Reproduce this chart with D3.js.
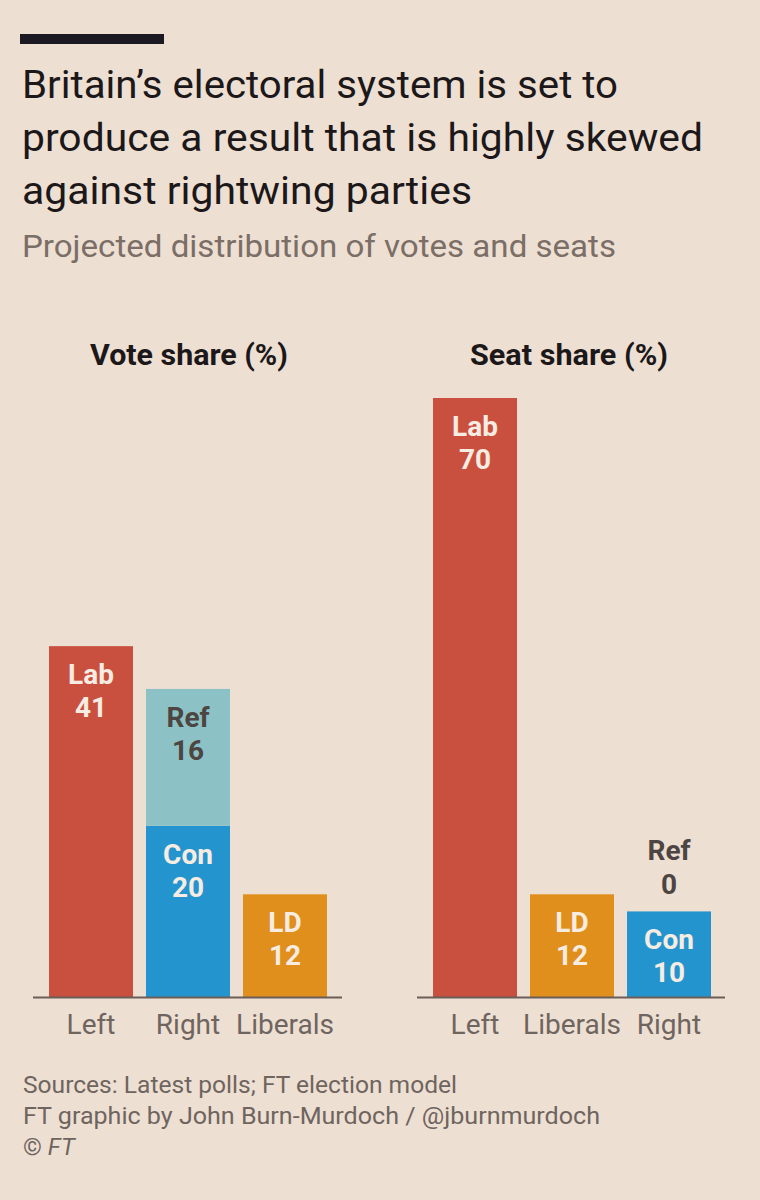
<!DOCTYPE html>
<html>
<head>
<meta charset="utf-8">
<script src="https://cdn.jsdelivr.net/npm/d3@7/dist/d3.min.js"></script>
<style>
  html, body { margin: 0; padding: 0; background: #eedfd3; }
  svg { display: block; }
</style>
</head>
<body>
<svg id="chart" width="760" height="1200"></svg>
<script>
// ---- Data ----
const titleLines = [
  "Britain\u2019s electoral system is set to",
  "produce a result that is highly skewed",
  "against rightwing parties"
];
const subtitle = "Projected distribution of votes and seats";
const voteCategories = ["Left", "Right", "Liberals"];
const seatCategories = ["Left", "Liberals", "Right"];
const parties = ["Lab", "Con", "Ref", "LD"];
const partyCategory = ["Left", "Right", "Right", "Liberals"];
const voteShare = [41, 20, 16, 12];
const seatShare = [70, 10, 0, 12];
const partyColors = ["#c9503f", "#2494cf", "#8cc2c6", "#e08e1c"];
const partyLabelColors = ["#f7ece2", "#f7ece2", "#4d4541", "#f7ece2"];
const panelTitles = ["Vote share (%)", "Seat share (%)"];
const footerLines = [
  "Sources: Latest polls; FT election model",
  "FT graphic by John Burn-Murdoch / @jburnmurdoch"
];

// ---- Layout ----
const svg = d3.select("#chart");
const W = 760, H = 1200;
svg.append("rect").attr("width", W).attr("height", H).attr("fill", "#eedfd3");

const fontMain = "Roboto, 'Noto Sans', sans-serif";

// top rule
svg.append("rect").attr("x", 20).attr("y", 34).attr("width", 144).attr("height", 10).attr("fill", "#1b1a22");

// title
const titleWidths = [596, 681, 450];
const titleBaselines = [98, 151, 204];
titleLines.forEach((t, i) => {
  svg.append("text")
    .attr("x", 22).attr("y", titleBaselines[i])
    .attr("font-family", fontMain).attr("font-size", 38).attr("fill", "#1c1819")
    .attr("textLength", titleWidths[i]).attr("lengthAdjust", "spacingAndGlyphs")
    .text(t);
});
svg.append("text")
  .attr("x", 22).attr("y", 257)
  .attr("font-family", fontMain).attr("font-size", 32).attr("fill", "#7a6e66")
  .attr("textLength", 594).attr("lengthAdjust", "spacingAndGlyphs")
  .text(subtitle);

// shared y scale
const y = d3.scaleLinear().domain([0, 70]).range([997, 398]);

const panels = [
  { cats: voteCategories, values: voteShare, range: [49, 327], axis: [33, 342], titleX: 189, title: panelTitles[0] },
  { cats: seatCategories, values: seatShare, range: [433, 711], axis: [417, 725], titleX: 569, title: panelTitles[1] }
];

panels.forEach(p => {
  const x = d3.scaleBand().domain(p.cats).range(p.range).paddingInner(0.134).paddingOuter(0);
  const g = svg.append("g");

  // panel title
  g.append("text")
    .attr("x", p.titleX).attr("y", 365)
    .attr("text-anchor", "middle")
    .attr("font-family", fontMain).attr("font-weight", 700).attr("font-size", 29)
    .attr("fill", "#1c1819")
    .attr("textLength", 198).attr("lengthAdjust", "spacingAndGlyphs")
    .text(p.title);

  // stacked segments
  const stackTop = {};
  p.cats.forEach(c => stackTop[c] = 0);
  const segs = parties.map((party, i) => {
    const cat = partyCategory[i];
    const y0 = stackTop[cat];
    const y1 = y0 + p.values[i];
    stackTop[cat] = y1;
    return { party, cat, y0, y1, value: p.values[i], color: partyColors[i], labelColor: partyLabelColors[i] };
  });

  g.selectAll("rect.bar").data(segs.filter(d => d.value > 0)).join("rect")
    .attr("class", "bar")
    .attr("x", d => x(d.cat))
    .attr("width", x.bandwidth())
    .attr("y", d => y(d.y1))
    .attr("height", d => y(d.y0) - y(d.y1))
    .attr("fill", d => d.color);

  // labels
  segs.forEach(d => {
    const cx = x(d.cat) + x.bandwidth() / 2;
    const top = y(d.y1);
    let b1, b2, col;
    if (d.value > 0) { b1 = top + 38; b2 = top + 71; col = d.labelColor; }
    else { b1 = top - 51; b2 = top - 17; col = "#4d4541"; }
    [d.party, String(d.value)].forEach((t, k) => {
      g.append("text")
        .attr("x", cx).attr("y", k === 0 ? b1 : b2)
        .attr("text-anchor", "middle")
        .attr("font-family", fontMain).attr("font-weight", 700).attr("font-size", 28)
        .attr("fill", col)
        .text(t);
    });
  });

  // baseline
  g.append("line")
    .attr("x1", p.axis[0]).attr("x2", p.axis[1])
    .attr("y1", y(0) + 0.5).attr("y2", y(0) + 0.5)
    .attr("stroke", "#6a5f58").attr("stroke-width", 2);

  // category labels
  g.selectAll("text.cat").data(p.cats).join("text")
    .attr("class", "cat")
    .attr("x", d => x(d) + x.bandwidth() / 2)
    .attr("y", 1034)
    .attr("text-anchor", "middle")
    .attr("font-family", fontMain).attr("font-size", 28)
    .attr("fill", "#6e655f")
    .text(d => d);
});

// footer
const footerBaselines = [1093, 1124];
const footerWidths = [434, 577];
footerLines.forEach((t, i) => {
  svg.append("text")
    .attr("x", 23).attr("y", footerBaselines[i])
    .attr("font-family", fontMain).attr("font-size", 24).attr("fill", "#6e655f")
    .attr("textLength", footerWidths[i]).attr("lengthAdjust", "spacingAndGlyphs")
    .text(t);
});
const copy = svg.append("text")
  .attr("x", 23).attr("y", 1155)
  .attr("font-family", fontMain).attr("font-size", 24).attr("fill", "#6e655f");
copy.append("tspan").text("\u00A9 ");
copy.append("tspan").attr("font-style", "italic").text("FT");
</script>
</body>
</html>
